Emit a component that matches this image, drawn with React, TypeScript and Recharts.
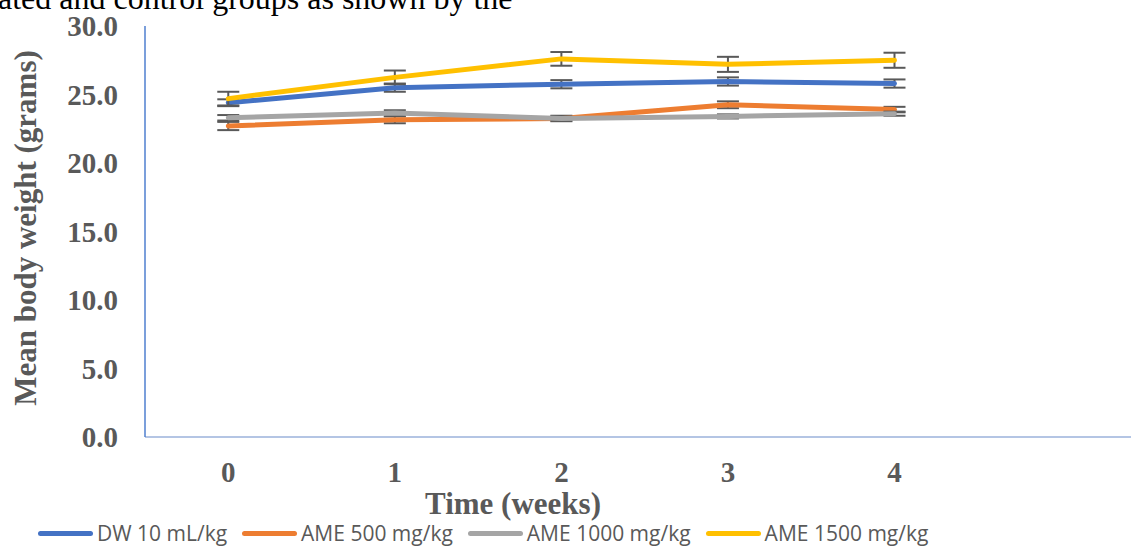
import React from 'react';
import { LineChart, Line, XAxis, YAxis, ErrorBar } from 'recharts';

const weeks = [0, 1, 2, 3, 4];
const seriesNames = ['DW 10 mL/kg', 'AME 500 mg/kg', 'AME 1000 mg/kg', 'AME 1500 mg/kg'];
const seriesColors = ['#4472C4', '#ED7D31', '#A5A5A5', '#FFC000'];
const dwMean = [24.4, 25.5, 25.75, 25.95, 25.8];
const dwErr = [0.25, 0.3, 0.3, 0.3, 0.3];
const ame500Mean = [22.7, 23.15, 23.25, 24.25, 23.9];
const ame500Err = [0.3, 0.25, 0.2, 0.25, 0.2];
const ame1000Mean = [23.3, 23.65, 23.25, 23.4, 23.6];
const ame1000Err = [0.2, 0.2, 0.15, 0.15, 0.15];
const ame1500Mean = [24.7, 26.25, 27.6, 27.2, 27.5];
const ame1500Err = [0.5, 0.5, 0.5, 0.55, 0.55];
const yTicks = [0, 5, 10, 15, 20, 25, 30];

const keys = ['dw', 'a500', 'a1000', 'a1500'];
const means = [dwMean, ame500Mean, ame1000Mean, ame1500Mean];
const errs = [dwErr, ame500Err, ame1000Err, ame1500Err];

const data = weeks.map((w, i) => {
  const row: any = { week: w };
  keys.forEach((k, s) => {
    row[k] = means[s][i];
    row[k + 'E'] = errs[s][i];
  });
  return row;
});

const serif = '"Liberation Serif", "Times New Roman", serif';

const YTick = (props: any) => {
  const { x, y, payload } = props;
  return (
    <text x={x - 27} y={y + 10} textAnchor="end" fontFamily={serif} fontWeight="bold" fontSize={29} fill="#595959">
      {Number(payload.value).toFixed(1)}
    </text>
  );
};

const XTick = (props: any) => {
  const { x, y, payload } = props;
  return (
    <text x={x} y={y + 45} textAnchor="middle" fontFamily={serif} fontWeight="bold" fontSize={29} fill="#595959">
      {payload.value}
    </text>
  );
};

const YLabel = () => (
  <text x={36} y={228} transform="rotate(-90 36 228)" textAnchor="middle" fontFamily={serif} fontWeight="bold" fontSize={31} fill="#595959">
    Mean body weight (grams)
  </text>
);

const XLabel = () => (
  <text x={513} y={514} textAnchor="middle" fontFamily={serif} fontWeight="bold" fontSize={31} fill="#595959">
    Time (weeks)
  </text>
);

export default function App() {
  return (
    <div style={{ position: 'fixed', left: 0, top: 0, width: 1131, height: 547, overflow: 'hidden', background: '#fff' }}>
      <svg style={{ position: 'absolute', left: 0, top: 0 }} width={1131} height={22}>
        <text x={-2} y={9} fontFamily={serif} fontSize={32} fill="#000">ated and control groups as shown by the</text>
      </svg>
      <div style={{ position: 'absolute', left: 0, top: 0 }}>
        <LineChart width={1131} height={547} data={data} margin={{ top: 26, right: 0, bottom: 80, left: 0 }}>
          <XAxis
            dataKey="week"
            type="number"
            domain={[-0.5, 5.42]}
            ticks={weeks}
            allowDataOverflow
            interval={0}
            height={30}
            axisLine={{ stroke: '#B4C5E4', strokeWidth: 2 }}
            tickLine={false}
            tickSize={0}
            tickMargin={0}
            tick={<XTick />}
            label={{ content: () => <XLabel /> }}
          />
          <YAxis
            width={145}
            domain={[0, 30]}
            ticks={yTicks}
            interval={0}
            axisLine={{ stroke: '#4F7FCF', strokeWidth: 1.5 }}
            tickLine={false}
            tickSize={0}
            tickMargin={0}
            tick={<YTick />}
            label={{ content: () => <YLabel /> }}
          />
          {keys.map((k, s) => (
            <Line
              key={k}
              dataKey={k}
              name={seriesNames[s]}
              stroke={seriesColors[s]}
              strokeWidth={5}
              strokeLinecap="round"
              strokeLinejoin="round"
              dot={false}
              activeDot={false}
              isAnimationActive={false}
            >
              <ErrorBar dataKey={k + 'E'} width={11} stroke="#595959" strokeWidth={2} direction="y" isAnimationActive={false} />
            </Line>
          ))}
        </LineChart>
      </div>
      <div
        style={{
          position: 'absolute',
          left: 38,
          top: 520,
          height: 26,
          lineHeight: '26px',
          display: 'flex',
          alignItems: 'center',
          fontFamily: '"Open Sans", sans-serif',
          fontSize: 21,
          color: '#595959',
          whiteSpace: 'nowrap',
        }}
      >
        {seriesNames.map((n, s) => (
          <div key={n} style={{ display: 'flex', alignItems: 'center', marginRight: 15 }}>
            <span style={{ display: 'inline-block', width: 55, height: 5, borderRadius: 3, background: seriesColors[s], marginRight: 4 }} />
            <span>{n}</span>
          </div>
        ))}
      </div>
    </div>
  );
}
